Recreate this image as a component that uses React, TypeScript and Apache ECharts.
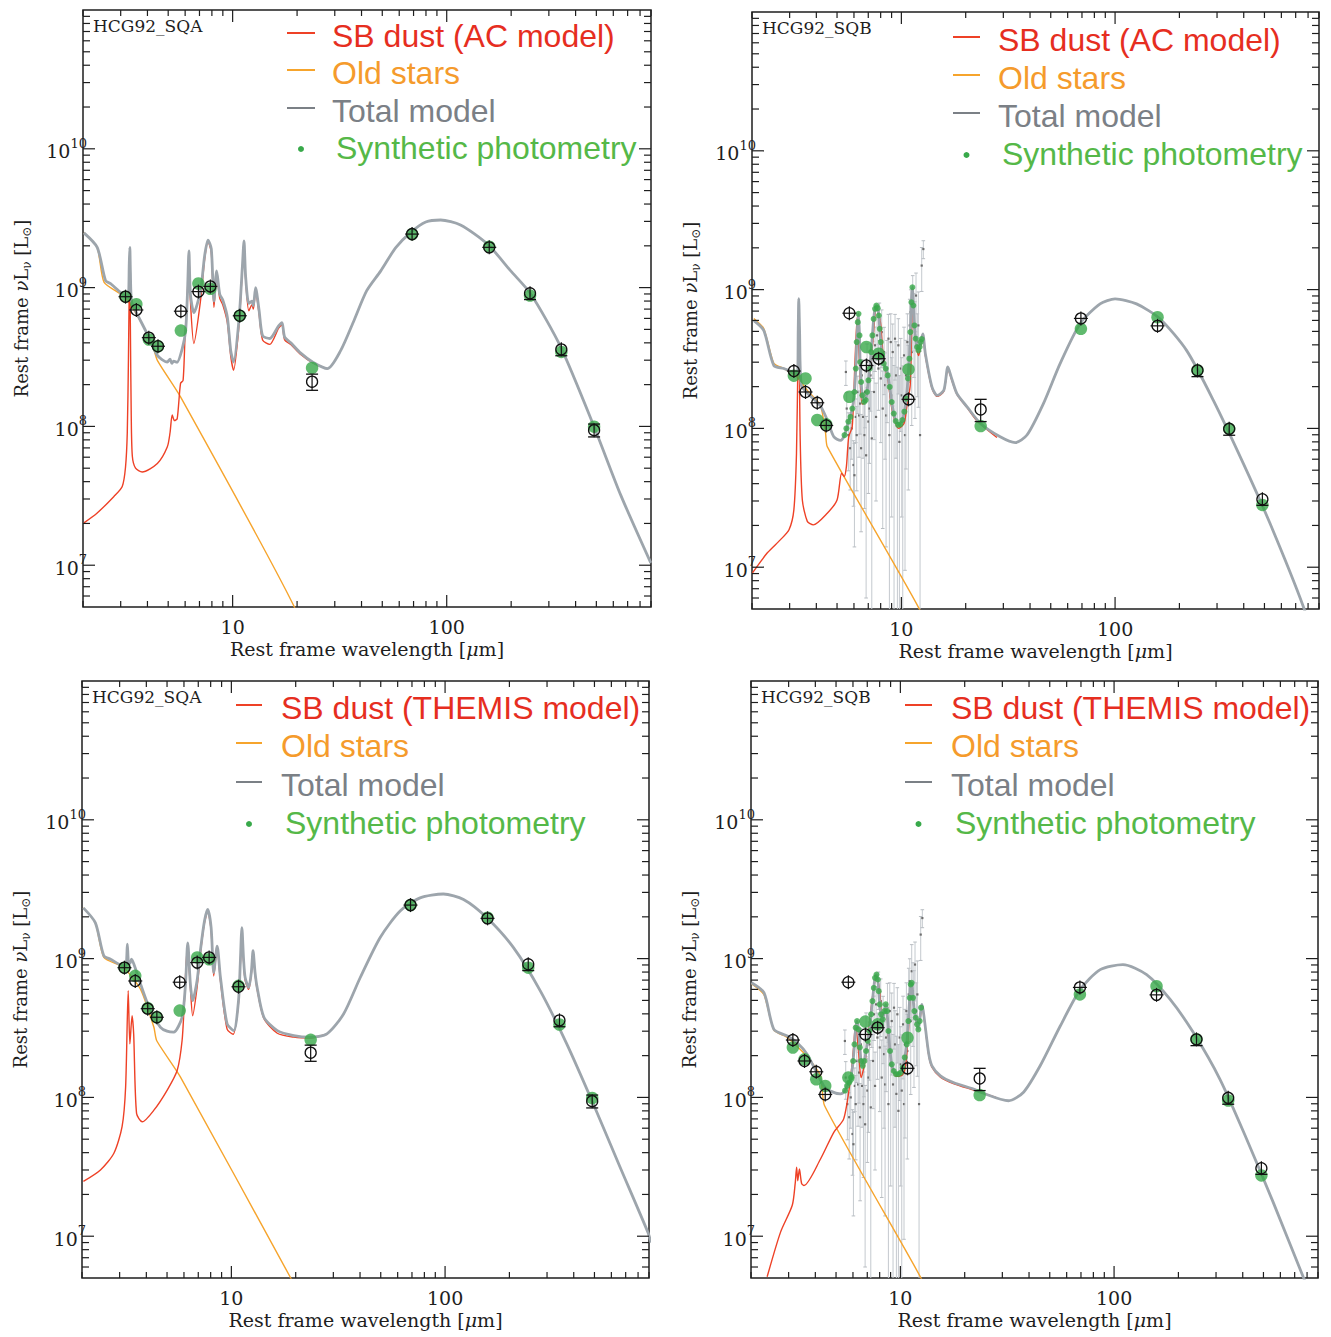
import React, { useEffect, useRef } from 'react';
import * as echarts from 'echarts';

// ---- axis ranges and ticks -------------------------------------------------
const X_MIN = 2;
const X_MAX = 900;
const Y_MIN = 5e6;
const Y_MAX = 1e11;

const X_MAJOR_TICKS = [10, 100];
const X_MINOR_TICKS = [2, 3, 4, 5, 6, 7, 8, 9, 20, 30, 40, 50, 60, 70, 80, 90, 200, 300, 400, 500, 600, 700, 800, 900];
const Y_MAJOR_TICKS = [1e7, 1e8, 1e9, 1e10];
const Y_MINOR_TICKS = [
  6e6, 7e6, 8e6, 9e6,
  2e7, 3e7, 4e7, 5e7, 6e7, 7e7, 8e7, 9e7,
  2e8, 3e8, 4e8, 5e8, 6e8, 7e8, 8e8, 9e8,
  2e9, 3e9, 4e9, 5e9, 6e9, 7e9, 8e9, 9e9,
  2e10, 3e10, 4e10, 5e10, 6e10, 7e10, 8e10, 9e10,
];

// ---- observed photometry (rest-frame wavelength in micron, nuL_nu in Lsun) --
const OBS_LAM_SQA = [3.16, 3.55, 4.06, 4.48, 5.73, 6.92, 7.87, 10.8, 23.5, 68.9, 158, 245, 343, 488];
const OBS_LUM_SQA = [8.6e8, 6.9e8, 4.36e8, 3.78e8, 6.76e8, 9.36e8, 1.02e9, 6.27e8, 2.1e8, 2.43e9, 1.95e9, 9.1e8, 3.59e8, 9.4e7];
const OBS_ERR_SQA = [3.5e7, 3e7, 2e7, 1.7e7, 3e7, 4e7, 4.5e7, 2.8e7, 2.8e7, 1.1e8, 1.3e8, 9e7, 3.6e7, 1e7];
const OBS_BAND_SQA = [0.19, 0.21, 0.24, 0.27, 0.34, 0.41, 0.47, 0.65, 0, 4.1, 9.5, 0, 0, 0];

const OBS_LAM_SQB = [3.14, 3.56, 4.04, 4.45, 5.71, 6.86, 7.83, 10.8, 23.5, 69.2, 158, 243, 342, 489];
const OBS_LUM_SQB = [2.59e8, 1.83e8, 1.53e8, 1.05e8, 6.76e8, 2.84e8, 3.18e8, 1.62e8, 1.37e8, 6.2e8, 5.48e8, 2.62e8, 9.93e7, 3.09e7];
const OBS_ERR_SQB = [1.3e7, 1e7, 8e6, 6e6, 3.4e7, 1.5e7, 1.6e7, 8e6, 2.5e7, 3.3e7, 3.5e7, 2.6e7, 1e7, 3e6];
const OBS_BAND_SQB = [0.19, 0.21, 0.24, 0.27, 0.34, 0.41, 0.47, 0.65, 0, 4.1, 9.5, 0, 0, 0];

// ---- synthetic broad-band photometry of each fit (same bands as above) ------
const SYNTH_SQA_AC = [8.6e8, 7.6e8, 4.23e8, 3.78e8, 4.9e8, 1.07e9, 9.8e8, 6.27e8, 2.64e8, 2.43e9, 1.97e9, 8.76e8, 3.44e8, 9.96e7];
const SYNTH_SQA_TH = [8.6e8, 7.52e8, 4.4e8, 3.78e8, 4.22e8, 1.02e9, 9.9e8, 6.37e8, 2.6e8, 2.43e9, 1.97e9, 8.61e8, 3.35e8, 9.9e7];
const SYNTH_SQB_AC = [2.4e8, 2.29e8, 1.15e8, 1.07e8, 1.69e8, 3.86e8, 3.45e8, 2.66e8, 1.04e8, 5.22e8, 6.33e8, 2.62e8, 9.93e7, 2.81e7];
const SYNTH_SQB_TH = [2.29e8, 1.88e8, 1.35e8, 1.21e8, 1.39e8, 3.52e8, 3.36e8, 2.69e8, 1.04e8, 5.52e8, 6.33e8, 2.62e8, 9.5e7, 2.74e7];

// ---- IRS spectrum of SQB --------------------------------------------------
const SPEC_LAM_SQB = [5.50, 5.55, 5.65, 5.76, 5.86, 5.97, 6.03, 6.12, 6.18, 6.25, 6.34, 6.41, 6.48, 6.53, 6.62, 6.72, 6.76, 6.84, 6.91, 7.01, 7.09, 7.17, 7.27, 7.35, 7.45, 7.53, 7.61, 7.70, 7.81, 7.89, 8.01, 8.09, 8.18, 8.30, 8.39, 8.48, 8.57, 8.70, 8.79, 8.92, 9.01, 9.11, 9.24, 9.34, 9.44, 9.58, 9.68, 9.79, 9.93, 10.04, 10.15, 10.29, 10.40, 10.51, 10.67, 10.78, 10.94, 11.06, 11.18, 11.30, 11.46, 11.58, 11.71, 11.88, 12.01, 12.23, 12.45, 12.67];
const SPEC_LUM_SQB = [2.55e8, 1.39e8, 8.95e7, 7.2e7, 1.0e8, 5.45e7, 4.6e7, 1.21e8, 8.95e7, 1.83e8, 1.24e8, 1.51e8, 7.2e7, 2.41e8, 1.21e8, 8.95e7, 1.83e8, 6.4e7, 3.01e8, 1.12e8, 1.39e8, 2.41e8, 8.47e7, 3.27e8, 1.83e8, 3.97e8, 1.21e8, 4.68e8, 2.7e8, 6.15e8, 2.29e8, 4.94e8, 1.39e8, 3.55e8, 2.05e8, 1.24e8, 2.7e8, 4.43e8, 8.95e7, 4.19e8, 1.73e8, 3.55e8, 1.24e8, 4.43e8, 2.41e8, 1.06e8, 3.97e8, 8.0e7, 2.7e8, 1.73e8, 1.12e8, 3.36e8, 8.95e7, 2.41e8, 4.19e8, 2.16e8, 5.52e8, 6.87e8, 3.55e8, 8.11e8, 5.83e8, 4.68e8, 9.06e8, 4.19e8, 5.52e8, 8.95e7, 1.49e9, 1.96e9];
const SPEC_ERR_SQB = [5.1e7, 4.2e7, 4.0e7, 3.6e7, 4e7, 2.7e7, 3.2e7, 4.2e7, 5.4e7, 5.5e7, 6.2e7, 6e7, 5.4e7, 7.2e7, 6e7, 6.3e7, 8.2e7, 5.8e7, 1.05e8, 7.8e7, 8.3e7, 1.08e8, 1.0e8, 9.8e7, 1.0e8, 1.4e8, 9.1e7, 1.6e8, 1.35e8, 1.85e8, 1.5e8, 2.2e8, 1.2e8, 1.8e8, 1.45e8, 1.1e8, 1.6e8, 2.2e8, 1.6e8, 2.5e8, 1.5e8, 2.1e8, 1.6e8, 2.2e8, 1.8e8, 1.7e8, 2.2e8, 1.6e8, 1.75e8, 1.5e8, 1.7e8, 2.0e8, 8e7, 1.9e8, 2.5e8, 1.8e8, 3.0e8, 3.1e8, 2.5e8, 4.5e8, 3.5e8, 3.5e8, 4.1e8, 2.5e8, 4.1e8, 2.7e8, 5.2e8, 2.9e8];

// synthetic photometry of the model on the spectral grid
const SPEC_SYNTH_SQB_AC = [[5.42, 8.95e7], [5.53, 1.0e8], [5.65, 1.12e8], [5.78, 1.21e8], [5.90, 1.39e8], [6.03, 1.83e8], [6.12, 2.7e8], [6.18, 4.19e8], [6.25, 5.83e8], [6.30, 6.69e8], [6.37, 4.68e8], [6.41, 3.01e8], [6.48, 2.16e8], [6.57, 1.73e8], [6.69, 1.55e8], [6.81, 1.6e8], [6.91, 1.83e8], [7.01, 2.22e8], [7.11, 2.7e8], [7.22, 3.55e8], [7.32, 4.68e8], [7.42, 6.15e8], [7.53, 7.27e8], [7.64, 7.67e8], [7.75, 7.35e8], [7.84, 6.51e8], [7.92, 5.22e8], [8.01, 4.19e8], [8.12, 3.36e8], [8.27, 2.93e8], [8.45, 2.7e8], [8.63, 2.41e8], [8.82, 1.99e8], [9.01, 1.55e8], [9.21, 1.28e8], [9.41, 1.13e8], [9.65, 1.06e8], [9.89, 1.07e8], [10.11, 1.15e8], [10.33, 1.32e8], [10.55, 1.64e8], [10.74, 2.29e8], [10.90, 3.18e8], [11.02, 4.94e8], [11.14, 8.11e8], [11.26, 1.04e9], [11.38, 7.68e8], [11.51, 5.52e8], [11.67, 4.43e8], [11.84, 3.86e8], [12.01, 3.65e8], [12.18, 3.86e8], [12.31, 4.19e8], [12.45, 4.4e8]];
const SPEC_SYNTH_SQB_TH = [[5.51, 1.12e8], [5.63, 1.21e8], [5.76, 1.28e8], [5.88, 1.39e8], [6.01, 1.83e8], [6.10, 2.41e8], [6.18, 3.18e8], [6.27, 3.55e8], [6.37, 3.09e8], [6.46, 2.29e8], [6.55, 1.83e8], [6.67, 1.69e8], [6.79, 1.83e8], [6.91, 2.16e8], [7.04, 2.55e8], [7.17, 3.01e8], [7.29, 3.97e8], [7.40, 4.94e8], [7.51, 6.15e8], [7.61, 7.27e8], [7.73, 7.67e8], [7.84, 7.07e8], [7.92, 5.83e8], [8.01, 4.68e8], [8.12, 3.97e8], [8.27, 3.65e8], [8.42, 4.19e8], [8.54, 4.68e8], [8.66, 4.19e8], [8.79, 3.01e8], [8.95, 2.16e8], [9.11, 1.73e8], [9.31, 1.55e8], [9.54, 1.47e8], [9.79, 1.47e8], [10.04, 1.51e8], [10.25, 1.64e8], [10.48, 1.94e8], [10.71, 2.41e8], [10.90, 3.55e8], [11.06, 5.22e8], [11.18, 6.51e8], [11.30, 6.69e8], [11.46, 5.22e8], [11.63, 4.19e8], [11.80, 3.75e8], [11.97, 3.36e8], [12.14, 3.09e8], [12.31, 3.55e8], [12.50, 4.43e8]];

// ---- model components: SQA, AC dust model -----------------------------------
const TOTAL_SQA_AC = [[2.02, 2.48e9], [2.33, 1.95e9], [2.55, 1.12e9], [2.69, 1.07e9], [3.0, 9.2e8], [3.16, 8.6e8], [3.25, 8.4e8], [3.29, 1.5e9], [3.31, 1.95e9], [3.33, 1.3e9], [3.37, 8.0e8], [3.52, 6.8e8], [3.92, 4.9e8], [4.45, 3.25e8], [4.95, 2.91e8], [5.1, 3.05e8], [5.2, 2.85e8], [5.3, 2.95e8], [5.5, 2.9e8], [5.82, 3.65e8], [6.03, 4.9e8], [6.15, 9e8], [6.25, 1.84e9], [6.35, 9e8], [6.59, 6.6e8], [7.08, 9.5e8], [7.4, 1.7e9], [7.67, 2.2e9], [7.95, 1.9e9], [8.18, 8.0e8], [8.42, 1.32e9], [8.7, 9e8], [9.0, 8.1e8], [9.45, 6.1e8], [9.8, 3.5e8], [10.1, 2.91e8], [10.7, 5.8e8], [11.1, 1.4e9], [11.3, 2.17e9], [11.5, 1.2e9], [11.9, 7.7e8], [12.3, 8.0e8], [12.5, 7.4e8], [12.8, 1.0e9], [13.3, 6.8e8], [13.8, 4.5e8], [14.9, 4.3e8], [16.4, 5.3e8], [17.0, 5.6e8], [17.5, 4.4e8], [18.7, 4.0e8], [20.8, 3.37e8], [23.7, 2.9e8], [27.7, 2.61e8], [32, 3.53e8], [36.9, 5.8e8], [42.3, 9.5e8], [49.2, 1.32e9], [57.8, 1.94e9], [67.9, 2.5e9], [79.8, 2.97e9], [93.7, 3.07e9], [116, 2.83e9], [155, 2.06e9], [199, 1.32e9], [247, 9.0e8], [341, 3.73e8], [488, 9.96e7], [650, 3.2e7], [898, 1.04e7]];
const DUST_SQA_AC = [[2.02, 2.02e7], [2.33, 2.38e7], [2.79, 3.13e7], [3.05, 3.69e7], [3.16, 5.1e7], [3.22, 9e7], [3.26, 3e8], [3.29, 1.0e9], [3.31, 1.15e9], [3.33, 5e8], [3.36, 1.2e8], [3.40, 6.1e7], [3.52, 5.0e7], [3.78, 4.7e7], [4.45, 5.4e7], [4.95, 7.1e7], [5.1, 9e7], [5.22, 1.21e8], [5.35, 1.1e8], [5.51, 1.14e8], [5.71, 2.04e8], [5.87, 2.15e8], [6.0, 4.65e8], [6.13, 8.07e8], [6.25, 1.7e9], [6.35, 8e8], [6.59, 3.96e8], [7.08, 8.07e8], [7.4, 1.6e9], [7.67, 2.15e9], [7.95, 1.8e9], [8.18, 7.2e8], [8.42, 1.28e9], [8.7, 8.4e8], [9.0, 7.5e8], [9.45, 5.6e8], [9.8, 3.2e8], [10.1, 2.54e8], [10.7, 5.3e8], [11.1, 1.35e9], [11.3, 2.1e9], [11.5, 1.15e9], [11.9, 6.8e8], [12.3, 7.5e8], [12.5, 7e8], [12.8, 9.5e8], [13.3, 6.4e8], [13.8, 4.2e8], [14.9, 3.9e8], [16.4, 5.1e8], [17.0, 5.4e8], [17.5, 4.2e8], [18.7, 3.9e8], [20.8, 3.3e8], [23.7, 2.87e8], [27.7, 2.6e8]];
const STARS_SQA_AC = [[2.02, 2.48e9], [2.33, 1.95e9], [2.51, 1.09e9], [3.16, 8.5e8], [3.52, 6.6e8], [3.92, 4.9e8], [4.23, 3.84e8], [4.45, 2.99e8], [5.71, 1.63e8], [19.3, 5.1e6], [25.8, 1.4e6]];

// ---- model components: SQB, AC dust model -----------------------------------
const TOTAL_SQB_AC = [[2.04, 5.98e8], [2.27, 5.08e8], [2.53, 2.84e8], [2.82, 2.7e8], [3.08, 2.55e8], [3.26, 2.45e8], [3.29, 5e8], [3.31, 8.6e8], [3.34, 5e8], [3.40, 2.05e8], [3.63, 1.8e8], [4.18, 1.45e8], [4.5, 1.15e8], [4.83, 8.7e7], [5.19, 8.2e7], [5.42, 8.95e7], [5.65, 1.12e8], [5.9, 1.39e8], [6.03, 1.83e8], [6.12, 2.7e8], [6.18, 4.19e8], [6.25, 5.83e8], [6.30, 6.69e8], [6.37, 4.68e8], [6.41, 3.01e8], [6.48, 2.16e8], [6.57, 1.73e8], [6.69, 1.55e8], [6.81, 1.6e8], [6.91, 1.83e8], [7.01, 2.22e8], [7.11, 2.7e8], [7.22, 3.55e8], [7.32, 4.68e8], [7.42, 6.15e8], [7.53, 7.27e8], [7.64, 7.67e8], [7.75, 7.35e8], [7.84, 6.51e8], [7.92, 5.22e8], [8.01, 4.19e8], [8.12, 3.36e8], [8.27, 2.93e8], [8.45, 2.7e8], [8.63, 2.41e8], [8.82, 1.99e8], [9.01, 1.55e8], [9.21, 1.28e8], [9.41, 1.13e8], [9.65, 1.06e8], [9.89, 1.07e8], [10.11, 1.15e8], [10.33, 1.32e8], [10.55, 1.64e8], [10.74, 2.29e8], [10.9, 3.18e8], [11.02, 4.94e8], [11.14, 8.11e8], [11.26, 1.04e9], [11.38, 7.68e8], [11.51, 5.52e8], [11.67, 4.43e8], [11.84, 3.86e8], [12.01, 3.65e8], [12.18, 3.86e8], [12.4, 4.4e8], [12.6, 4.8e8], [12.95, 3.45e8], [13.9, 1.99e8], [14.7, 1.73e8], [15.8, 1.88e8], [16.5, 2.77e8], [17.1, 2.35e8], [18.2, 1.78e8], [20.3, 1.43e8], [23.4, 1.09e8], [29, 8.7e7], [34.1, 7.9e7], [38.7, 8.96e7], [46.2, 1.51e8], [55.3, 2.93e8], [68.6, 5.68e8], [85.1, 7.89e8], [100, 8.57e8], [126, 7.89e8], [162, 6.17e8], [216, 3.65e8], [288, 1.6e8], [398, 5.6e7], [530, 2.08e7], [759, 5.24e6], [905, 2.2e6]];
const DUST_SQB_AC = [[2.01, 9.1e6], [2.36, 1.27e7], [2.72, 1.58e7], [2.98, 1.86e7], [3.14, 2.59e7], [3.23, 6.6e7], [3.28, 3.09e8], [3.31, 6.0e8], [3.36, 8.7e7], [3.44, 3.05e7], [3.63, 2.14e7], [3.87, 2.02e7], [4.5, 2.45e7], [5.0, 3.05e7], [5.25, 4.75e7], [5.4, 4.5e7], [5.53, 5.3e7], [5.67, 8.7e7], [5.89, 1.03e8], [6.07, 3.09e8], [6.21, 6.3e8], [6.37, 2.93e8], [6.55, 1.5e8], [6.78, 1.55e8], [7.3, 3.75e8], [7.64, 7.3e8], [7.98, 5.8e8], [8.22, 3.3e8], [8.45, 2.6e8], [8.63, 2.3e8], [9.06, 1.35e8], [9.72, 1.0e8], [10.3, 1.09e8], [10.6, 1.43e8], [11.0, 2.05e8], [11.3, 1.0e9], [11.5, 5.3e8], [12.05, 3.35e8], [12.6, 4.7e8], [12.95, 3.35e8], [13.9, 1.95e8], [14.7, 1.7e8], [15.8, 1.85e8], [16.5, 2.7e8], [17.1, 2.3e8], [18.2, 1.76e8], [20.3, 1.41e8], [22.6, 1.13e8], [28, 8.6e7]];
const STARS_SQB_AC = [[2.04, 6.2e8], [2.27, 5.25e8], [2.53, 2.94e8], [2.82, 2.7e8], [3.2, 2.41e8], [3.63, 1.88e8], [4.18, 1.47e8], [4.42, 9.2e7], [4.5, 7.4e7], [12.06, 5.1e6], [15.2, 2.2e6]];

// ---- model components: SQA, THEMIS dust model -------------------------------
const TOTAL_SQA_TH = [[2.03, 2.32e9], [2.31, 1.81e9], [2.53, 1.05e9], [2.72, 9.9e8], [3.14, 8.87e8], [3.22, 9.0e8], [3.26, 1.27e9], [3.30, 9.3e8], [3.35, 9.2e8], [3.41, 9.9e8], [3.5, 9.1e8], [3.76, 6.55e8], [4.18, 4.22e8], [4.66, 3.2e8], [5.0, 3.0e8], [5.37, 2.95e8], [5.88, 3.78e8], [6.1, 6.55e8], [6.25, 1.3e9], [6.43, 6.55e8], [6.59, 4.98e8], [6.91, 6.92e8], [7.16, 1.14e9], [7.48, 1.86e9], [7.75, 2.26e9], [8.04, 1.67e9], [8.27, 7.94e8], [8.58, 1.23e9], [8.89, 7.31e8], [9.55, 3.39e8], [10.26, 3.03e8], [10.8, 4.98e8], [11.0, 9e8], [11.2, 1.67e9], [11.4, 1.0e9], [11.6, 7.31e8], [12.05, 6.2e8], [12.4, 8e8], [12.63, 1.14e9], [12.9, 8e8], [13.2, 6.2e8], [14.2, 3.78e8], [16.4, 3.03e8], [19.6, 2.79e8], [23.4, 2.72e8], [28, 2.87e8], [33.5, 3.99e8], [40.1, 7.31e8], [49.7, 1.42e9], [61.6, 2.2e9], [76.4, 2.74e9], [98.2, 2.92e9], [122, 2.67e9], [157, 1.97e9], [209, 1.2e9], [279, 5.86e8], [371, 2.43e8], [493, 9.03e7], [657, 3.18e7], [891, 1.06e7], [920, 9e6]];
const DUST_SQA_TH = [[2.03, 2.48e7], [2.44, 3.0e7], [2.82, 3.96e7], [3.08, 6.15e7], [3.2, 1.19e8], [3.29, 5.86e8], [3.35, 2.43e8], [3.43, 3.88e8], [3.49, 2.87e8], [3.6, 7.67e7], [3.83, 6.67e7], [4.34, 8.09e7], [5.01, 1.13e8], [5.58, 1.57e8], [5.88, 2.57e8], [6.03, 4.98e8], [6.22, 1.2e9], [6.4, 7e8], [6.59, 3.88e8], [6.91, 6.2e8], [7.16, 1.08e9], [7.48, 1.8e9], [7.75, 2.2e9], [8.04, 1.6e9], [8.27, 7.5e8], [8.58, 1.2e9], [8.89, 6.9e8], [9.55, 3.1e8], [10.2, 2.85e8], [10.8, 4.8e8], [11.0, 8.7e8], [11.2, 1.6e9], [11.4, 9.7e8], [11.6, 7.0e8], [12.05, 6.0e8], [12.4, 7.8e8], [12.63, 1.1e9], [12.9, 7.8e8], [13.2, 6.0e8], [14.2, 3.7e8], [16.4, 2.9e8], [19.6, 2.72e8], [23.4, 2.68e8], [28, 2.85e8]];
const STARS_SQA_TH = [[2.03, 2.32e9], [2.31, 1.81e9], [2.53, 1.02e9], [3.14, 8.6e8], [3.76, 6.0e8], [4.34, 3.2e8], [4.47, 2.57e8], [5.78, 1.4e8], [18.9, 5.04e6], [25, 2.3e6]];

// ---- model components: SQB, THEMIS dust model -------------------------------
const TOTAL_SQB_TH = [[2.01, 6.7e8], [2.30, 5.68e8], [2.56, 3.09e8], [2.96, 2.77e8], [3.29, 2.48e8], [3.66, 2.05e8], [4.38, 1.21e8], [4.71, 1.11e8], [5.25, 1.06e8], [5.51, 1.12e8], [5.63, 1.21e8], [5.76, 1.28e8], [5.88, 1.39e8], [6.01, 1.83e8], [6.10, 2.41e8], [6.18, 3.18e8], [6.27, 3.55e8], [6.37, 3.09e8], [6.46, 2.29e8], [6.55, 1.83e8], [6.67, 1.69e8], [6.79, 1.83e8], [6.91, 2.16e8], [7.04, 2.55e8], [7.17, 3.01e8], [7.29, 3.97e8], [7.40, 4.94e8], [7.51, 6.15e8], [7.61, 7.27e8], [7.73, 7.67e8], [7.84, 7.07e8], [7.92, 5.83e8], [8.01, 4.68e8], [8.12, 3.97e8], [8.27, 3.65e8], [8.42, 4.19e8], [8.54, 4.68e8], [8.66, 4.19e8], [8.79, 3.01e8], [8.95, 2.16e8], [9.11, 1.73e8], [9.31, 1.55e8], [9.54, 1.47e8], [9.79, 1.47e8], [10.04, 1.51e8], [10.25, 1.64e8], [10.48, 1.94e8], [10.71, 2.41e8], [10.9, 3.55e8], [11.06, 5.22e8], [11.18, 6.51e8], [11.3, 6.69e8], [11.46, 5.22e8], [11.63, 4.19e8], [11.80, 3.75e8], [11.97, 3.36e8], [12.14, 3.09e8], [12.31, 3.55e8], [12.5, 4.43e8], [12.63, 4.68e8], [12.95, 3.65e8], [13.55, 2.1e8], [14.05, 1.69e8], [15.4, 1.43e8], [17.7, 1.28e8], [22, 1.15e8], [23.7, 1.09e8], [32.1, 9.46e7], [37.7, 1.09e8], [45.1, 1.69e8], [56, 3.27e8], [69.4, 5.98e8], [86.1, 8.33e8], [110, 9.06e8], [142, 7.67e8], [183, 5.08e8], [235, 2.93e8], [313, 1.35e8], [417, 5.02e7], [555, 1.76e7], [767, 5.1e6], [918, 2.6e6]];
const DUST_SQB_TH = [[2.38, 5.1e6], [2.75, 1.07e7], [3.12, 1.67e7], [3.22, 2.4e7], [3.27, 3.14e7], [3.31, 2.51e7], [3.37, 3.05e7], [3.45, 2.4e7], [3.54, 2.32e7], [4.23, 3.6e7], [4.88, 5.6e7], [5.43, 7e7], [5.84, 1.35e8], [6.05, 2.35e8], [6.17, 3.4e8], [6.38, 2.1e8], [6.55, 1.39e8], [6.86, 1.88e8], [7.37, 5.0e8], [7.73, 7.5e8], [8.0, 5.85e8], [8.21, 3.95e8], [8.42, 4.1e8], [8.6, 4.3e8], [8.81, 2.7e8], [9.14, 1.65e8], [9.58, 1.42e8], [10.2, 1.45e8], [10.55, 1.65e8], [10.9, 2.9e8], [11.2, 6.2e8], [11.46, 5.1e8], [11.75, 3.8e8], [12.18, 3.2e8], [12.63, 4.6e8], [12.95, 3.6e8], [13.55, 2.05e8], [14.05, 1.65e8], [15.4, 1.4e8], [17.7, 1.26e8], [22, 1.13e8], [28, 1.0e8]];
const STARS_SQB_TH = [[2.01, 6.6e8], [2.30, 5.5e8], [2.56, 3.05e8], [2.96, 2.7e8], [3.66, 1.97e8], [4.23, 1.43e8], [4.42, 8.7e7], [12.4, 5.1e6], [15.5, 2.4e6]];

// ---- styling ------------------------------------------------------------------
const AXIS_COLOR = '#1e1e1e';
const RED_LINE = '#ee4126';
const ORANGE_LINE = '#f6a42c';
const GREY_LINE = '#9da5ac';
const GREEN_DOT = '#38a94a';
const RED_TEXT = '#e62e1f';
const ORANGE_TEXT = '#f59b2c';
const GREY_TEXT = '#7b8086';
const GREEN_TEXT = '#55b848';
const SERIF = '"DejaVu Serif", serif';
const SANS = '"Liberation Sans", Arial, sans-serif';

const PANELS = [
  {
    label: 'HCG92_SQA', dustName: 'SB dust (AC model)',
    grid: { left: 83, top: 10, width: 568, height: 597 },
    legend: { x1: 287, x2: 315, textX: 332, rows: [36, 73, 111, 148] }, labelPos: [93, 26],
    total: TOTAL_SQA_AC, dust: DUST_SQA_AC, stars: STARS_SQA_AC, synth: SYNTH_SQA_AC,
    obs: { lam: OBS_LAM_SQA, lum: OBS_LUM_SQA, err: OBS_ERR_SQA, band: OBS_BAND_SQA },
    spectrum: false, specSynth: null,
  },
  {
    label: 'HCG92_SQB', dustName: 'SB dust (AC model)',
    grid: { left: 752, top: 12, width: 567, height: 597 },
    legend: { x1: 953, x2: 980, textX: 998, rows: [40, 78, 116, 154] }, labelPos: [762, 28],
    total: TOTAL_SQB_AC, dust: DUST_SQB_AC, stars: STARS_SQB_AC, synth: SYNTH_SQB_AC,
    obs: { lam: OBS_LAM_SQB, lum: OBS_LUM_SQB, err: OBS_ERR_SQB, band: OBS_BAND_SQB },
    spectrum: true, specSynth: SPEC_SYNTH_SQB_AC,
  },
  {
    label: 'HCG92_SQA', dustName: 'SB dust (THEMIS model)',
    grid: { left: 82, top: 681, width: 567, height: 597 },
    legend: { x1: 236, x2: 262, textX: 281, rows: [708, 746, 785, 823] }, labelPos: [92, 697],
    total: TOTAL_SQA_TH, dust: DUST_SQA_TH, stars: STARS_SQA_TH, synth: SYNTH_SQA_TH,
    obs: { lam: OBS_LAM_SQA, lum: OBS_LUM_SQA, err: OBS_ERR_SQA, band: OBS_BAND_SQA },
    spectrum: false, specSynth: null,
  },
  {
    label: 'HCG92_SQB', dustName: 'SB dust (THEMIS model)',
    grid: { left: 751, top: 681, width: 567, height: 597 },
    legend: { x1: 905, x2: 932, textX: 951, rows: [708, 746, 785, 823] }, labelPos: [761, 697],
    total: TOTAL_SQB_TH, dust: DUST_SQB_TH, stars: STARS_SQB_TH, synth: SYNTH_SQB_TH,
    obs: { lam: OBS_LAM_SQB, lum: OBS_LUM_SQB, err: OBS_ERR_SQB, band: OBS_BAND_SQB },
    spectrum: true, specSynth: SPEC_SYNTH_SQB_TH,
  },
];

const seg = (x1: number, y1: number, x2: number, y2: number, stroke: string, lineWidth: number) => ({
  type: 'line',
  shape: { x1, y1, x2, y2 },
  style: { stroke, lineWidth },
});

// inward ticks on all four sides of a panel
const renderTicks = (params: any, api: any) => {
  const cs = params.coordSys;
  const kind = api.value(2);
  const p = api.coord([api.value(0), api.value(1)]);
  if (kind < 2) {
    const len = kind === 1 ? 12 : 6;
    const x = p[0];
    const yb = cs.y + cs.height;
    return {
      type: 'group',
      children: [seg(x, yb, x, yb - len, AXIS_COLOR, 1.2), seg(x, cs.y, x, cs.y + len, AXIS_COLOR, 1.2)],
    };
  }
  const len = kind === 3 ? 12 : 7;
  const y = p[1];
  const xr = cs.x + cs.width;
  return {
    type: 'group',
    children: [seg(cs.x, y, cs.x + len, y, AXIS_COLOR, 1.2), seg(xr, y, xr - len, y, AXIS_COLOR, 1.2)],
  };
};

// open circle with cross hair and error bar for the measured fluxes
const renderObs = (params: any, api: any) => {
  const lam = api.value(0);
  const lum = api.value(1);
  const err = api.value(2);
  const band = api.value(3);
  const c = api.coord([lam, lum]);
  const r = 5.5;
  const top = api.coord([lam, lum + err])[1];
  const bot = api.coord([lam, Math.max(lum - err, 1)])[1];
  const children: any[] = [];
  children.push(seg(c[0], Math.min(top, c[1] - r - 1.5), c[0], Math.max(bot, c[1] + r + 1.5), '#111', 1.2));
  if (c[1] - top > r + 0.5) children.push(seg(c[0] - 6, top, c[0] + 6, top, '#111', 1.3));
  if (bot - c[1] > r + 0.5) children.push(seg(c[0] - 6, bot, c[0] + 6, bot, '#111', 1.3));
  if (band > 0) {
    const xl = api.coord([lam - band, lum])[0];
    const xr = api.coord([lam + band, lum])[0];
    children.push(seg(Math.min(xl, c[0] - r - 1.5), c[1], Math.max(xr, c[0] + r + 1.5), c[1], '#111', 1.2));
  }
  children.push({
    type: 'circle',
    shape: { cx: c[0], cy: c[1], r },
    style: { fill: 'none', stroke: '#111', lineWidth: 1.3 },
  });
  return { type: 'group', children };
};

// spectral points with their (linear) error bars
const renderSpectrum = (params: any, api: any) => {
  const lam = api.value(0);
  const lum = api.value(1);
  const err = api.value(2);
  const c = api.coord([lam, lum]);
  const top = api.coord([lam, lum + err])[1];
  const hasLow = lum - err > 0;
  const bot = api.coord([lam, hasLow ? lum - err : Y_MIN / 20])[1];
  const children: any[] = [seg(c[0], top, c[0], bot, '#c4c9ce', 1)];
  children.push(seg(c[0] - 1.8, top, c[0] + 1.8, top, '#b8bdc2', 1));
  if (hasLow) children.push(seg(c[0] - 1.8, bot, c[0] + 1.8, bot, '#b8bdc2', 1));
  children.push({ type: 'rect', shape: { x: c[0] - 1.1, y: c[1] - 1.1, width: 2.2, height: 2.2 }, style: { fill: '#6e6e6e' } });
  return { type: 'group', children };
};

const xLabelFormatter = (v: number) => {
  const e = Math.log10(v);
  const r = Math.round(e);
  return Math.abs(e - r) < 1e-6 && r >= 1 && r <= 2 ? String(Math.round(v)) : '';
};

const yLabelFormatter = (v: number) => {
  const e = Math.log10(v);
  const r = Math.round(e);
  if (Math.abs(e - r) > 1e-6 || r < 7 || r > 10) return '';
  return `{b|10}{s|${r}}`;
};

function buildOption() {
  const grid: any[] = [];
  const xAxis: any[] = [];
  const yAxis: any[] = [];
  const series: any[] = [];
  const graphic: any[] = [];

  const tickData = [
    ...X_MINOR_TICKS.map((t) => [t, 1e9, 0]),
    ...X_MAJOR_TICKS.map((t) => [t, 1e9, 1]),
    ...Y_MINOR_TICKS.map((t) => [10, t, 2]),
    ...Y_MAJOR_TICKS.map((t) => [10, t, 3]),
  ];

  PANELS.forEach((p, i) => {
    grid.push({
      ...p.grid,
      show: true,
      borderColor: AXIS_COLOR,
      borderWidth: 1.5,
      backgroundColor: 'transparent',
      containLabel: false,
    });
    xAxis.push({
      gridIndex: i,
      type: 'log',
      logBase: 10,
      min: X_MIN,
      max: X_MAX,
      axisLine: { show: false },
      axisTick: { show: false },
      splitLine: { show: false },
      axisLabel: {
        formatter: xLabelFormatter,
        margin: 10,
        fontFamily: SERIF,
        fontSize: 19,
        color: AXIS_COLOR,
        showMinLabel: false,
        showMaxLabel: false,
      },
      name: 'Rest frame wavelength [{i|μ}m]',
      nameLocation: 'middle',
      nameGap: 32,
      nameTextStyle: {
        fontFamily: SERIF,
        fontSize: 19,
        color: AXIS_COLOR,
        rich: { i: { fontFamily: SERIF, fontSize: 19, fontStyle: 'italic', color: AXIS_COLOR } },
      },
    });
    yAxis.push({
      gridIndex: i,
      type: 'log',
      logBase: 10,
      min: Y_MIN,
      max: Y_MAX,
      axisLine: { show: false },
      axisTick: { show: false },
      splitLine: { show: false },
      axisLabel: {
        formatter: yLabelFormatter,
        margin: -4,
        showMinLabel: false,
        showMaxLabel: false,
        rich: {
          b: { fontFamily: SERIF, fontSize: 19, lineHeight: 24, color: AXIS_COLOR, verticalAlign: 'bottom' },
          s: { fontFamily: SERIF, fontSize: 13, lineHeight: 15, color: AXIS_COLOR, verticalAlign: 'top' },
        },
      },
      name: 'Rest frame {i|ν}L{u|ν} [L{u|⊙}]',
      nameLocation: 'middle',
      nameGap: 50,
      nameTextStyle: {
        fontFamily: SERIF,
        fontSize: 18,
        lineHeight: 24,
        color: AXIS_COLOR,
        rich: {
          i: { fontFamily: SERIF, fontSize: 18, fontStyle: 'italic', color: AXIS_COLOR, lineHeight: 24 },
          u: { fontFamily: SERIF, fontSize: 12, color: AXIS_COLOR, lineHeight: 14, verticalAlign: 'bottom' },
        },
      },
    });

    const common = { xAxisIndex: i, yAxisIndex: i, silent: true, animation: false };

    if (p.spectrum) {
      series.push({
        ...common,
        type: 'custom',
        clip: true,
        z: 1,
        renderItem: renderSpectrum,
        data: SPEC_LAM_SQB.map((l, k) => [l, SPEC_LUM_SQB[k], SPEC_ERR_SQB[k]]),
      });
    }
    series.push({
      ...common, type: 'line', name: 'Old stars', data: p.stars, showSymbol: false, symbol: 'none', z: 2,
      smooth: 0.2, lineStyle: { color: ORANGE_LINE, width: 1.4 },
    });
    series.push({
      ...common, type: 'line', name: p.dustName, data: p.dust, showSymbol: false, symbol: 'none', z: 2,
      smooth: 0.25, lineStyle: { color: RED_LINE, width: 1.4 },
    });
    series.push({
      ...common, type: 'line', name: 'Total model', data: p.total, showSymbol: false, symbol: 'none', z: 3,
      smooth: 0.25, lineStyle: { color: GREY_LINE, width: 2.8 },
    });
    if (p.specSynth) {
      series.push({
        ...common, type: 'scatter', data: p.specSynth, symbol: 'circle', symbolSize: 6, z: 4,
        itemStyle: { color: GREEN_DOT },
      });
    }
    series.push({
      ...common, type: 'scatter', name: 'Synthetic photometry',
      data: p.obs.lam.map((l, k) => [l, p.synth[k]]), symbol: 'circle', symbolSize: 12.5, z: 4,
      itemStyle: { color: GREEN_DOT },
    });
    series.push({
      ...common, type: 'custom', clip: true, z: 5, renderItem: renderObs,
      data: p.obs.lam.map((l, k) => [l, p.obs.lum[k], p.obs.err[k], p.obs.band[k]]),
    });
    series.push({
      ...common, type: 'custom', clip: false, z: 6, renderItem: renderTicks, data: tickData,
    });

    // panel label
    graphic.push({
      type: 'text', x: p.labelPos[0], y: p.labelPos[1], silent: true,
      style: { text: p.label, fontFamily: SERIF, fontSize: 17, fill: AXIS_COLOR, verticalAlign: 'middle', textVerticalAlign: 'middle' },
    });

    // legend
    const lg = p.legend;
    const entries = [
      { text: p.dustName, line: RED_LINE, color: RED_TEXT },
      { text: 'Old stars', line: ORANGE_LINE, color: ORANGE_TEXT },
      { text: 'Total model', line: GREY_TEXT, color: GREY_TEXT },
    ];
    entries.forEach((e, k) => {
      graphic.push({ ...seg(lg.x1, lg.rows[k] - 3, lg.x2, lg.rows[k] - 3, e.line, 2), silent: true });
      graphic.push({
        type: 'text', x: lg.textX, y: lg.rows[k], silent: true,
        style: { text: e.text, fontFamily: SANS, fontSize: 32, fill: e.color, verticalAlign: 'middle', textVerticalAlign: 'middle' },
      });
    });
    graphic.push({
      type: 'circle', silent: true,
      shape: { cx: (lg.x1 + lg.x2) / 2, cy: lg.rows[3] + 1, r: 3 },
      style: { fill: GREEN_DOT },
    });
    graphic.push({
      type: 'text', x: lg.textX + 4, y: lg.rows[3], silent: true,
      style: { text: 'Synthetic photometry', fontFamily: SANS, fontSize: 32, fill: GREEN_TEXT, verticalAlign: 'middle', textVerticalAlign: 'middle' },
    });
  });

  return {
    animation: false,
    backgroundColor: '#ffffff',
    grid,
    xAxis,
    yAxis,
    series,
    graphic,
  };
}

export default function App() {
  const ref = useRef<HTMLDivElement | null>(null);
  useEffect(() => {
    if (!ref.current) return undefined;
    const chart = echarts.init(ref.current, undefined, { renderer: 'svg' });
    chart.setOption(buildOption() as any);
    return () => {
      chart.dispose();
    };
  }, []);
  return (
    <div
      ref={ref}
      style={{ position: 'fixed', left: 0, top: 0, width: 1331, height: 1337, background: '#ffffff' }}
    />
  );
}
